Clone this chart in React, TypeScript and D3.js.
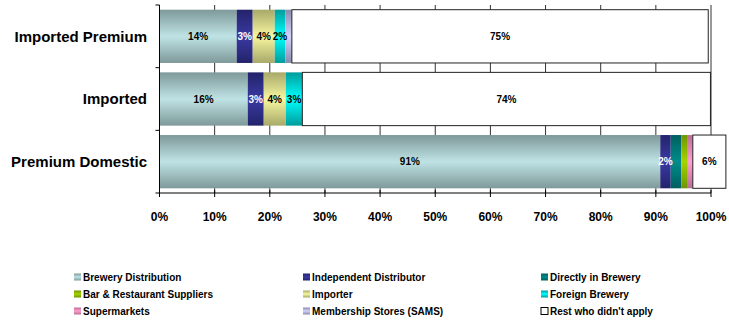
import React from "react";
import * as d3 from "d3";

const categories = ["Imported Premium", "Imported", "Premium Domestic"];
const seriesNames = [
  "Brewery Distribution",
  "Independent Distributor",
  "Directly in Brewery",
  "Bar & Restaurant Suppliers",
  "Importer",
  "Foreign Brewery",
  "Supermarkets",
  "Membership Stores (SAMS)",
  "Rest who didn't apply",
];
const breweryDistribution = [14, 16, 90.8];
const independentDistributor = [2.9, 2.9, 1.9];
const directlyInBrewery = [0, 0, 1.9];
const barRestaurantSuppliers = [0, 0, 1.2];
const importer = [4, 4, 0];
const foreignBrewery = [1.9, 3, 0];
const supermarkets = [0, 0, 0.9];
const membershipStores = [1.2, 0, 0];
const restDidntApply = [75.5, 74, 6];

const seriesValues = [
  breweryDistribution,
  independentDistributor,
  directlyInBrewery,
  barRestaurantSuppliers,
  importer,
  foreignBrewery,
  supermarkets,
  membershipStores,
  restDidntApply,
];

// labels shown in the bars ("" = none)
const seriesLabels = [
  ["14%", "16%", "91%"],
  ["3%", "3%", "2%"],
  ["", "", ""],
  ["", "", ""],
  ["4%", "4%", ""],
  ["2%", "3%", ""],
  ["", "", ""],
  ["", "", ""],
  ["75%", "74%", "6%"],
];

const xTicks = [0, 10, 20, 30, 40, 50, 60, 70, 80, 90, 100];

// [edge, middle] gradient colours
const colors: [string, string][] = [
  ["#7e9999", "#bfe3e5"],
  ["#23236b", "#3a3aa3"],
  ["#005f5f", "#008c8c"],
  ["#6f9400", "#a6d400"],
  ["#a8a86a", "#f7f7a0"],
  ["#009c9c", "#00ffff"],
  ["#b86e94", "#ff9fd0"],
  ["#8a8aad", "#d2d2ff"],
  ["#ffffff", "#ffffff"],
];
const labelColors = ["#000", "#fff", "#000", "#000", "#000", "#000", "#000", "#000", "#000"];

const FONT = "Arial, 'Liberation Sans', Helvetica, sans-serif";

export default function App() {
  const W = 729;
  const H = 323;
  const x0 = 159.5;
  const x1 = 711;
  const yTop = 5;
  const yBot = 193;

  const x = d3.scaleLinear().domain([0, 100]).range([x0, x1]);
  const y = d3
    .scaleBand<string>()
    .domain(categories)
    .range([yTop, yBot])
    .paddingInner(0.15)
    .paddingOuter(0.075);

  const bandEdges = [yTop, ...categories.map((_, i) => yTop + ((yBot - yTop) / categories.length) * (i + 1))];

  const segments: any[] = [];
  categories.forEach((cat, ci) => {
    let acc = 0;
    seriesValues.forEach((vals, si) => {
      const v = vals[ci];
      if (v > 0) {
        segments.push({ cat, ci, si, start: acc, end: acc + v, label: seriesLabels[si][ci] });
      }
      acc += v;
    });
  });

  const legendCols = [74, 303, 541];
  const legendRows = [277, 294, 311];

  return (
    <svg
      width={W}
      height={H}
      style={{ position: "absolute", left: 0, top: 0, background: "#fff" }}
      fontFamily={FONT}
    >
      <defs>
        {colors.map((c, i) => (
          <linearGradient key={i} id={`g${i}`} x1="0" y1="0" x2="0" y2="1">
            <stop offset="0" stopColor={c[0]} />
            <stop offset="0.5" stopColor={c[1]} />
            <stop offset="1" stopColor={c[0]} />
          </linearGradient>
        ))}
      </defs>
      <rect x={0} y={0} width={W} height={H} fill="#fff" />

      {/* gridlines */}
      {xTicks.map((t) => (
        <line key={t} x1={x(t)} x2={x(t)} y1={yTop} y2={yBot} stroke="#333" strokeWidth={1} />
      ))}

      {/* bars */}
      {segments.map((s, i) => (
        <rect
          key={i}
          x={x(s.start)}
          y={y(s.cat)}
          width={x(s.end) - x(s.start)}
          height={y.bandwidth()}
          fill={`url(#g${s.si})`}
          stroke={s.si === 8 ? "#222" : "none"}
          strokeWidth={1}
        />
      ))}
      {segments
        .filter((s) => s.label)
        .map((s, i) => (
          <text
            key={i}
            x={(x(s.start) + x(s.end)) / 2}
            y={(y(s.cat) as number) + y.bandwidth() / 2}
            dy="0.35em"
            textAnchor="middle"
            fontSize={10}
            fontWeight="bold"
            fill={labelColors[s.si]}
          >
            {s.label}
          </text>
        ))}

      {/* axes */}
      <line x1={x0} x2={x0} y1={yTop} y2={yBot} stroke="#000" strokeWidth={1} />
      {bandEdges.map((e, i) => (
        <line key={i} x1={x0 - 4} x2={x0} y1={e} y2={e} stroke="#000" strokeWidth={1} />
      ))}
      <line x1={x0} x2={x1} y1={yBot} y2={yBot} stroke="#000" strokeWidth={1} />
      {xTicks.map((t) => (
        <g key={t}>
          <line x1={x(t)} x2={x(t)} y1={yBot - 3} y2={yBot + 4} stroke="#000" strokeWidth={1} />
          <text
            x={x(t)}
            y={217}
            dy="0.35em"
            textAnchor="middle"
            fontSize={12}
            fontWeight="bold"
            fill="#000"
          >
            {`${t}%`}
          </text>
        </g>
      ))}
      {categories.map((c) => (
        <text
          key={c}
          x={147}
          y={(y(c) as number) + y.bandwidth() / 2}
          dy="0.35em"
          textAnchor="end"
          fontSize={15}
          fontWeight="bold"
          fill="#000"
        >
          {c}
        </text>
      ))}

      {/* legend */}
      {seriesNames.map((n, i) => {
        const cx = legendCols[i % 3];
        const cy = legendRows[Math.floor(i / 3)];
        return (
          <g key={n}>
            <rect
              x={cx}
              y={cy - 3.5}
              width={7}
              height={7}
              fill={`url(#g${i})`}
              stroke={i === 8 ? "#000" : "none"}
              strokeWidth={1}
            />
            <text x={cx + 9} y={cy} dy="0.35em" fontSize={10} fontWeight="bold" fill="#000">
              {n}
            </text>
          </g>
        );
      })}
    </svg>
  );
}
